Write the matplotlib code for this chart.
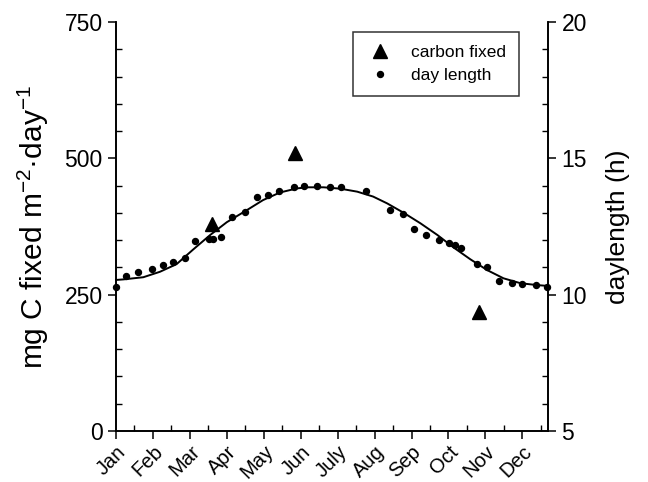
import matplotlib
matplotlib.use("Agg")
import matplotlib.pyplot as plt
from matplotlib.ticker import MultipleLocator

plt.rcParams['font.family'] = ['Liberation Sans', 'DejaVu Sans']
plt.rcParams['mathtext.fontset'] = 'custom'
plt.rcParams['mathtext.rm'] = 'Liberation Sans'
plt.rcParams['mathtext.it'] = 'Liberation Sans'
plt.rcParams['mathtext.sf'] = 'Liberation Sans'

# month labels (x position = month index)
months = ['Jan', 'Feb', 'Mar', 'Apr', 'May', 'Jun',
          'July', 'Aug', 'Sep', 'Oct', 'Nov', 'Dec']

# carbon fixed (mg C m-2 day-1), left axis
carbon_month = [2.59, 4.85, 9.82]
carbon_value = [380, 510, 218]

# measured day length (h), right axis
day_month = [0.0, 0.26, 0.59, 0.98, 1.26, 1.55, 1.88, 2.15, 2.51, 2.62,
             2.85, 3.14, 3.49, 3.83, 4.11, 4.42, 4.82, 5.09, 5.44, 5.80,
             6.08, 6.78, 7.43, 7.77, 8.08, 8.40, 8.75, 9.02, 9.19, 9.35,
             9.76, 10.05, 10.37, 10.72, 11.00, 11.36, 11.67]
day_hours = [10.28, 10.70, 10.82, 10.93, 11.08, 11.19, 11.36, 11.96, 12.04, 12.04,
             12.11, 12.86, 13.03, 13.57, 13.67, 13.80, 13.94, 14.00, 14.00, 13.95,
             13.95, 13.80, 13.09, 12.95, 12.41, 12.20, 12.00, 11.88, 11.83, 11.72,
             11.12, 11.01, 10.50, 10.44, 10.39, 10.34, 10.28]

# fitted day length curve
curve_month = [0.0, 0.2, 0.74, 1.19, 1.64, 2.1, 2.55, 3.0, 3.54, 3.98,
               4.44, 4.9, 5.18, 5.62, 6.07, 6.53, 6.96, 7.34, 7.78, 8.24,
               8.7, 9.13, 9.59, 10.05, 10.49, 10.95, 11.41, 11.7]
curve_hours = [10.54, 10.56, 10.64, 10.84, 11.12, 11.67, 12.19, 12.66, 13.10, 13.47,
               13.75, 13.90, 13.94, 13.94, 13.89, 13.78, 13.60, 13.35, 13.01, 12.62,
               12.19, 11.74, 11.30, 10.90, 10.60, 10.42, 10.35, 10.32]

fig = plt.figure(figsize=(6.48, 4.82), dpi=100)
ax = fig.add_axes([0.179, 0.106, 0.667, 0.848])
ax2 = ax.twinx()

# triangles
ax.plot(carbon_month, carbon_value, '^', color='black', markersize=10,
        label='carbon fixed', clip_on=False, zorder=5)
# day length
ax2.plot(day_month, day_hours, 'o', color='black', markersize=4.3,
         clip_on=False, zorder=5)
ax2.plot(curve_month, curve_hours, '-', color='black', linewidth=1.4,
         clip_on=False)
ax.plot([], [], 'o', color='black', markersize=4.3, label='day length')

ax.set_xlim(0, 11.7)
ax.set_ylim(0, 750)
ax2.set_ylim(5, 20)

for a in (ax, ax2):
    a.spines['top'].set_visible(False)
    for s in a.spines.values():
        s.set_linewidth(1.2)

ax.set_xticks(range(12))
ax.set_xticklabels(months, rotation=45, ha='right', rotation_mode='anchor')
ax.xaxis.set_minor_locator(MultipleLocator(0.5))
ax.yaxis.set_major_locator(MultipleLocator(250))
ax.yaxis.set_minor_locator(MultipleLocator(50))
ax2.yaxis.set_major_locator(MultipleLocator(5))
ax2.yaxis.set_minor_locator(MultipleLocator(1))

ax.tick_params(axis='both', which='major', direction='out', length=6,
               width=1.1, labelsize=16.5)
ax.tick_params(axis='x', which='major', labelsize=14.5, pad=2)
ax.tick_params(axis='both', which='minor', direction='in', length=4, width=1)
ax2.tick_params(axis='y', which='major', direction='out', length=6,
                width=1.1, labelsize=16.5)
ax2.tick_params(axis='y', which='minor', direction='in', length=4, width=1)

ax.set_ylabel(r'mg C fixed m$^{-2}$·day$^{-1}$', fontsize=21.5, labelpad=10)
ax2.set_ylabel('daylength (h)', fontsize=19, labelpad=14)

leg = ax.legend(loc='upper left', bbox_to_anchor=(0.549, 0.976), fontsize=12.5,
                frameon=True, fancybox=False, edgecolor='black',
                borderaxespad=0, handletextpad=1.0, borderpad=0.75,
                labelspacing=0.45, handlelength=1.6)
leg.get_frame().set_linewidth(1.1)

fig.savefig('out.png', dpi=100)
